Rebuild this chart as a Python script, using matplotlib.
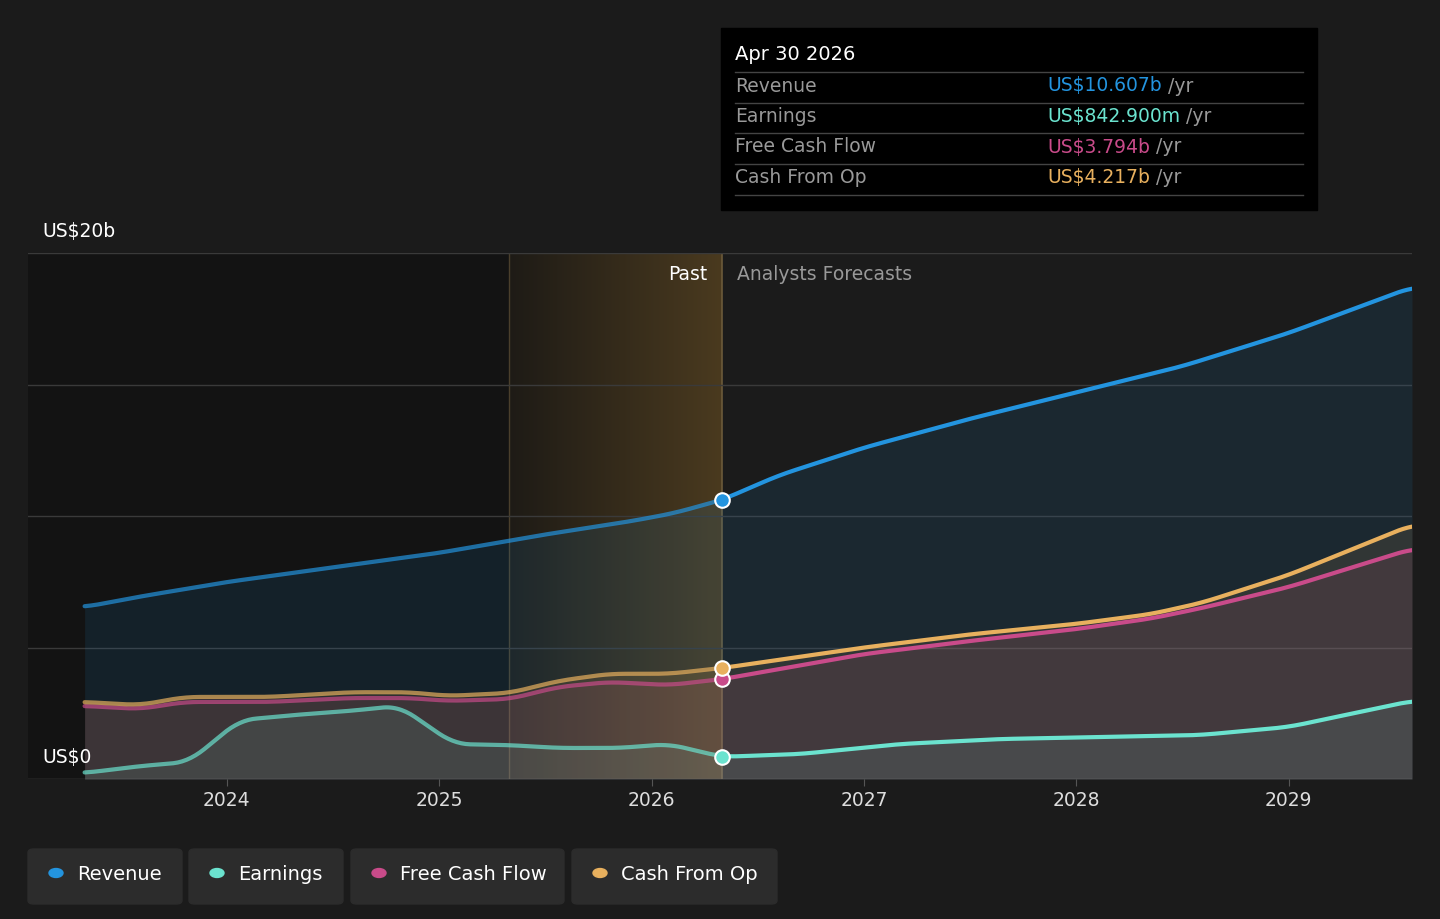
import matplotlib.pyplot as plt
import numpy as np
from matplotlib.patches import FancyBboxPatch, Rectangle
from matplotlib.colors import LinearSegmentedColormap

# data (years, US$ billions)
rev_x = [2023.33, 2023.6, 2024.0, 2024.5, 2025.0, 2025.5, 2025.9, 2026.1, 2026.33, 2026.6, 2027.0, 2027.5, 2028.0, 2028.5, 2029.0, 2029.58]
rev_y = [6.54, 6.95, 7.49, 8.05, 8.6, 9.3, 9.8, 10.1, 10.607, 11.55, 12.6, 13.7, 14.7, 15.7, 16.96, 18.7]

cfo_x = [2023.33, 2023.59, 2023.8, 2024.2, 2024.58, 2024.86, 2025.04, 2025.33, 2025.56, 2025.8, 2026.08, 2026.33, 2027.0, 2027.5, 2028.0, 2028.35, 2028.59, 2029.0, 2029.58]
cfo_y = [2.93, 2.81, 3.12, 3.12, 3.3, 3.3, 3.16, 3.27, 3.73, 4.0, 4.0, 4.217, 5.0, 5.5, 5.9, 6.27, 6.7, 7.76, 9.66]
fcf_x = cfo_x
fcf_y = [2.78, 2.66, 2.93, 2.93, 3.08, 3.08, 2.97, 3.04, 3.5, 3.69, 3.57, 3.794, 4.75, 5.25, 5.7, 6.1, 6.5, 7.3, 8.75]

earn_x = [2023.33, 2023.59, 2023.82, 2024.06, 2024.34, 2024.58, 2024.81, 2025.07, 2025.33, 2025.56, 2025.85, 2026.08, 2026.33, 2026.7, 2027.17, 2027.64, 2028.58, 2029.0, 2029.58]
earn_y = [0.23, 0.49, 0.65, 2.24, 2.45, 2.59, 2.78, 1.33, 1.29, 1.18, 1.18, 1.33, 0.843, 0.95, 1.33, 1.52, 1.67, 1.98, 2.97]

names = ['Revenue', 'Earnings', 'Free Cash Flow', 'Cash From Op']
colors = ['#2394df', '#6be3cf', '#c94b8a', '#e8b05e']
tip_vals = ['US$10.607b', 'US$842.900m', 'US$3.794b', 'US$4.217b']
past_end = 2026.33

plt.rcParams['font.family'] = ['DejaVu Sans']
bg = '#1b1b1b'
fig = plt.figure(figsize=(14.4, 9.19), dpi=100, facecolor=bg)
W, H = 1440, 919
ax = fig.add_axes([28 / W, (H - 779) / H, 1384 / W, (779 - 253) / H])
ax.set_facecolor(bg)
x0, x1 = 2024 + (28 - 227) / 212.5, 2029.58
ax.set_xlim(x0, x1)
ax.set_ylim(0, 20)

# past shading
ax.add_patch(Rectangle((x0, 0), 2025.33 - x0, 20, color='#131313', zorder=0))
grad = np.linspace(0, 1, 256).reshape(1, -1)
cm = LinearSegmentedColormap.from_list('g', ['#1e1b16', '#4a3a1f'])
ax.imshow(grad, extent=[2025.33, past_end, 0, 20], aspect='auto', cmap=cm, zorder=0.5)
ax.axvline(2025.33, color='#4a3f2c', lw=1, zorder=1)
ax.axvline(past_end, color='#6b5a3a', lw=1.2, zorder=1)

for v in [5, 10, 15, 20]:
    ax.axhline(v, color='#3a3a3a', lw=1, zorder=1)
ax.axhline(0, color='#555555', lw=1, zorder=1)

series = [(rev_x, rev_y), (earn_x, earn_y), (fcf_x, fcf_y), (cfo_x, cfo_y)]
for (xs, ys), c in zip(series, colors):
    xs = np.array(xs); ys = np.array(ys)
    xx = np.linspace(xs[0], xs[-1], 600)
    yy = np.interp(xx, xs, ys)
    k = np.ones(15) / 15
    yy_s = np.convolve(np.pad(yy, 7, mode='edge'), k, mode='valid')
    ax.fill_between(xx, 0, yy_s, color=c, alpha=0.11, lw=0, zorder=2)
    past = xx <= past_end
    ax.plot(xx[past], yy_s[past], color=c, lw=3, alpha=0.7, zorder=3, solid_capstyle='round')
    ax.plot(xx[~past], yy_s[~past], color=c, lw=3, zorder=3, solid_capstyle='round')
    ax.scatter([past_end], [np.interp(past_end, xs, ys)], s=110, color=c,
               edgecolor='white', lw=1.5, zorder=5)

for s in ax.spines.values():
    s.set_visible(False)
ax.set_yticks([])
ax.set_xticks([2024, 2025, 2026, 2027, 2028, 2029])
ax.tick_params(axis='x', colors='#dddddd', labelsize=13.5, length=5, color='#555555')

ax.text(past_end - 0.07, 19.2, 'Past', color='white', fontsize=13.5, ha='right', va='center')
ax.text(past_end + 0.07, 19.2, 'Analysts Forecasts', color='#999999', fontsize=13.5, ha='left', va='center')
fig.text(42 / W, 1 - 231 / H, 'US$20b', color='white', fontsize=13.5, va='center')
fig.text(42 / W, 1 - 758 / H, 'US$0', color='white', fontsize=13.5, va='center')

# tooltip
fig.patches.append(Rectangle((721 / W, 1 - 210 / H), 596 / W, 182 / H, transform=fig.transFigure,
                             color='black', zorder=10))
fig.text(735 / W, 1 - 55 / H, 'Apr 30 2026', color='white', fontsize=14, va='center', zorder=11)
for i, (n, v, c) in enumerate(zip(names, tip_vals, colors)):
    y = 86 + i * 30.5
    fig.lines.append(plt.Line2D([735 / W, 1303 / W], [1 - (y - 14) / H] * 2, transform=fig.transFigure,
                                color='#444444', lw=1, zorder=11))
    fig.text(735 / W, 1 - y / H, n, color='#999999', fontsize=13.5, va='center', zorder=11)
    t = fig.text(1047 / W, 1 - y / H, v, color=c, fontsize=13.5, va='center', zorder=11)
    fig.canvas.draw()
    bb = t.get_window_extent()
    fig.text(bb.x1 / W + 6 / W, 1 - y / H, '/yr', color='#999999', fontsize=13.5, va='center', zorder=11)
fig.lines.append(plt.Line2D([735 / W, 1303 / W], [1 - 195 / H] * 2, transform=fig.transFigure,
                            color='#444444', lw=1, zorder=11))

# legend buttons
lx = [28, 189, 351, 572]
lw_ = [154, 154, 213, 205]
for x, w, n, c in zip(lx, lw_, names, colors):
    fig.patches.append(FancyBboxPatch((x / W, 1 - 904 / H), w / W, 55 / H, transform=fig.transFigure,
                                      boxstyle='round,pad=0,rounding_size=0.004', color='#2c2c2c'))
    fig.patches.append(plt.Circle(((x + 28) / W, 1 - 873 / H), 7 / W, transform=fig.transFigure, color=c))
    fig.text((x + 49) / W, 1 - 874 / H, n, color='white', fontsize=14, va='center')

fig.savefig('out.png', dpi=100, facecolor=bg)
